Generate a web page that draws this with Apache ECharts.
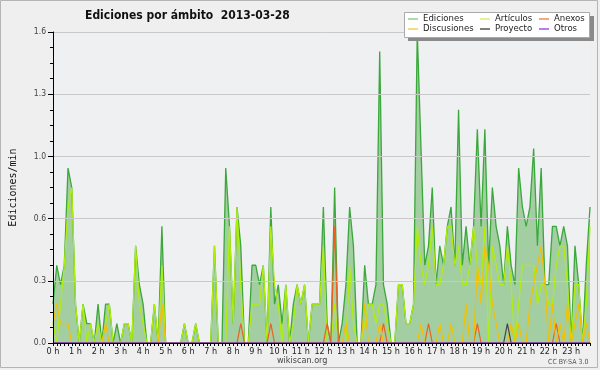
<!DOCTYPE html>
<html><head><meta charset="utf-8">
<script src="https://cdn.jsdelivr.net/npm/echarts@6/dist/echarts.min.js"></script>
<style>html,body{margin:0;padding:0;background:#ffffff;}#c{width:600px;height:370px;}</style>
</head><body><div id="c"></div>
<script>
const hourLabels = ['0 h','1 h','2 h','3 h','4 h','5 h','6 h','7 h','8 h','9 h','10 h','11 h','12 h','13 h','14 h','15 h','16 h','17 h','18 h','19 h','20 h','21 h','22 h','23 h'];
const yTicks = [0, 0.32, 0.64, 0.96, 1.28, 1.6];

const ediciones = [
0.2,0.4,0.3,0.4,0.9,0.8,0.2,0,0.2,0.1,
0.1,0,0.2,0,0.2,0.2,0,0.1,0,0.1,
0.1,0,0.5,0.3,0.2,0,0,0.2,0,0.6,
0,0,0,0,0,0.1,0,0,0.1,0,
0,0,0,0.5,0,0,0.9,0.6,0.1,0.7,
0.5,0,0,0.4,0.4,0.3,0.4,0,0.7,0.2,
0.3,0.1,0.3,0,0.2,0.3,0.2,0.3,0,0.2,
0.2,0.2,0.7,0.1,0,0.8,0,0.1,0.3,0.7,
0.5,0,0,0.4,0.2,0.2,0.3,1.5,0.3,0.2,
0,0,0.3,0.3,0.1,0.1,0.2,1.6,1.0,0.4,
0.5,0.8,0.3,0.5,0.4,0.6,0.7,0.4,1.2,0.4,
0.6,0.4,0.6,1.1,0.6,1.1,0.4,0.8,0.6,0.5,
0.3,0.6,0.4,0.3,0.9,0.7,0.6,0.7,1.0,0.5,
0.9,0.3,0.3,0.6,0.6,0.5,0.6,0.5,0,0.5,
0.3,0,0.4,0.7];

const articulos = [
0.1,0,0.2,0.4,0.7,0.8,0.2,0,0.2,0,
0.1,0,0.1,0,0.1,0.2,0,0,0,0.1,
0.1,0,0.5,0.2,0.1,0,0,0.2,0,0.4,
0,0,0,0,0,0.1,0,0,0.1,0,
0,0,0,0.5,0,0,0,0.6,0.1,0.7,
0.3,0,0,0.2,0.2,0.2,0.4,0,0.6,0.3,
0.2,0,0.3,0,0.1,0.3,0.2,0.3,0,0.2,
0.2,0.2,0.5,0,0,0.2,0,0,0,0.4,
0.1,0,0,0.1,0.2,0.2,0.1,0.2,0.2,0.1,
0,0,0.3,0.3,0.1,0.1,0.2,0.6,0.4,0.3,
0.4,0.6,0.3,0.3,0.4,0.6,0.6,0.4,0.5,0.3,
0.3,0.4,0.6,0.4,0.3,0.6,0,0.5,0.4,0.3,
0.3,0.5,0.3,0,0.2,0.4,0.4,0.4,0.4,0.2,
0.3,0.3,0.2,0.2,0.4,0.5,0.5,0.3,0,0.3,
0.3,0,0.2,0.6];

const anexos = [
0,0,0,0,0,0,0,0,0,0,
0,0,0,0,0,0,0,0,0,0,
0,0,0,0,0,0,0,0,0,0,
0,0,0,0,0,0,0,0,0,0,
0,0,0,0,0,0,0,0,0,0,
0.1,0,0,0,0,0,0,0,0.1,0,
0,0,0,0,0,0,0,0,0,0,
0,0,0,0.1,0,0.6,0,0,0,0,
0,0,0,0,0,0,0,0,0.1,0,
0,0,0,0,0,0,0,0,0,0,
0.1,0,0,0,0,0,0,0,0,0,
0,0,0,0.1,0,0,0,0,0,0,
0,0,0,0,0,0,0,0,0,0,
0,0,0,0,0.1,0,0,0,0,0,
0,0,0,0];

const discusiones = [
0.1,0.2,0.1,0.1,0.1,0,0,0,0,0,
0,0,0,0,0.1,0,0,0,0,0,
0,0,0,0,0,0,0,0,0,0.2,
0,0,0,0,0,0,0,0,0,0,
0,0,0,0,0,0,0,0,0,0,
0,0,0,0,0,0,0,0,0,0,
0,0,0,0,0,0,0,0,0,0,
0,0,0,0,0,0,0,0,0.1,0,
0,0,0,0.2,0,0,0,0.1,0,0,
0,0,0,0,0,0,0,0,0.1,0,
0,0,0,0.1,0,0,0.1,0,0,0,
0.2,0,0,0.4,0.2,0.5,0.4,0.2,0.1,0,
0,0,0.1,0,0.1,0,0,0.2,0.3,0.4,
0.5,0.3,0,0.2,0,0.1,0,0.2,0,0.1,
0.2,0,0.1,0];

const proyecto = [
0,0,0,0,0,0,0,0,0,0,
0,0,0,0,0,0,0,0,0,0,
0,0,0,0,0,0,0,0,0,0,
0,0,0,0,0,0,0,0,0,0,
0,0,0,0,0,0,0,0,0,0,
0,0,0,0,0,0,0,0,0,0,
0,0,0,0,0,0,0,0,0,0,
0,0,0,0,0,0,0,0,0,0,
0,0,0,0,0,0,0,0,0,0,
0,0,0,0,0,0,0,0,0,0,
0,0,0,0,0,0,0,0,0,0,
0,0,0,0,0,0,0,0,0,0,
0,0.1,0,0,0,0,0,0,0,0,
0,0,0,0,0,0,0,0,0,0,
0,0,0,0];

const otros = [
0,0,0,0,0,0,0,0,0,0,
0,0,0,0,0,0,0,0,0,0,
0,0,0,0,0,0,0,0,0,0,
0,0,0,0,0,0,0,0,0,0,
0,0,0,0,0,0,0,0,0,0,
0,0,0,0,0,0,0,0,0,0,
0,0,0,0,0,0,0,0,0,0,
0,0,0,0,0,0,0,0,0,0,
0,0,0,0,0,0,0,0,0,0,
0,0,0,0,0,0,0,0,0,0,
0,0,0,0,0,0,0,0,0,0,
0,0,0,0,0,0,0,0,0,0,
0,0,0,0,0,0,0,0,0,0,
0,0,0,0,0,0,0,0,0,0,
0,0,0,0];

// 10-minute slots (category keys)
const slots = [];
for (let i = 0; i < ediciones.length; i++) slots.push(String(i));

const FONT = "'DejaVu Sans Condensed','DejaVu Sans',sans-serif";

function lineSeries(name, data, legendColor, lineColor, extra) {
  return Object.assign({
    name: name, type: 'line', data: data, showSymbol: false, symbol: 'none',
    color: legendColor,
    lineStyle: { color: lineColor, width: 1.2 },
    emphasis: { disabled: true }, animation: false
  }, extra || {});
}

const chart = echarts.init(document.getElementById('c'), null, { renderer: 'canvas' });
chart.setOption({
  animation: false,
  backgroundColor: '#efefef',
  title: {
    text: 'Ediciones por ámbito  2013-03-28',
    left: 80, top: 5,
    textStyle: { fontFamily: FONT, fontSize: 12, fontWeight: 'bold', color: '#111' }
  },
  grid: { left: 46, right: 10, top: 32, bottom: 27, show: true, backgroundColor: '#eef0f2', borderWidth: 0 },
  xAxis: {
    type: 'category', data: slots, boundaryGap: false, z: 5,
    axisLine: { show: true, lineStyle: { color: '#000', width: 1 } },
    axisTick: { show: true, interval: 0, length: 3, lineStyle: { color: '#000' } },
    axisLabel: {
      interval: 0, margin: 4, fontFamily: FONT, fontSize: 9, color: '#222',
      formatter: (v, idx) => (idx % 6 === 0 ? hourLabels[idx / 6] : '')
    },
    splitLine: { show: false }
  },
  yAxis: {
    type: 'value', min: 0, max: 1.6, interval: 0.32, z: 5,
    name: 'Ediciones/min', nameLocation: 'middle', nameGap: 35,
    nameTextStyle: { fontFamily: 'DejaVu Sans Mono', fontSize: 10, color: '#111' },
    axisLine: { show: true, lineStyle: { color: '#000', width: 1 } },
    axisTick: { show: true, length: 5, lineStyle: { color: '#000' } },
    minorTick: { show: true, splitNumber: 4, length: 3, lineStyle: { color: '#000' } },
    axisLabel: { margin: 7, fontFamily: FONT, fontSize: 8.5, color: '#444',
      formatter: v => { const t = yTicks.find(x => Math.abs(x - v) < 1e-6); return (t === undefined ? v : t).toFixed(1); } },
    splitLine: { show: true, lineStyle: { color: '#c9c9c9', width: 1 } }
  },
  legend: [
    { orient: 'vertical', left: 408, top: 14, padding: 0, itemGap: 0, itemWidth: 10, itemHeight: 1.5, icon: 'rect', selectedMode: false, z: 20,
      textStyle: { fontFamily: FONT, fontSize: 9.5, color: '#222', lineHeight: 10 }, data: ['Ediciones', 'Discusiones'] },
    { orient: 'vertical', left: 480, top: 14, padding: 0, itemGap: 0, itemWidth: 10, itemHeight: 1.5, icon: 'rect', selectedMode: false, z: 20,
      textStyle: { fontFamily: FONT, fontSize: 9.5, color: '#222', lineHeight: 10 }, data: ['Artículos', 'Proyecto'] },
    { orient: 'vertical', left: 539, top: 14, padding: 0, itemGap: 0, itemWidth: 10, itemHeight: 1.5, icon: 'rect', selectedMode: false, z: 20,
      textStyle: { fontFamily: FONT, fontSize: 9.5, color: '#222', lineHeight: 10 }, data: ['Anexos', 'Otros'] }
  ],
  graphic: [
    { type: 'rect', z: 10, silent: true, shape: { x: 0.5, y: 0.5, width: 597, height: 367 }, style: { fill: 'none', stroke: '#b4b4b4', lineWidth: 1 } },
    { type: 'rect', z: 10, silent: true, shape: { x: 408, y: 16, width: 186, height: 25 }, style: { fill: '#8a8a8a' } },
    { type: 'rect', z: 11, silent: true, shape: { x: 404.5, y: 12.5, width: 185, height: 25 }, style: { fill: '#ffffff', stroke: '#aaaaaa', lineWidth: 1 } },
    { type: 'text', z: 10, silent: true, left: 277, top: 356, style: { text: 'wikiscan.org', font: "9px 'DejaVu Sans Condensed','DejaVu Sans',sans-serif", fill: '#444' } },
    { type: 'text', z: 10, silent: true, left: 548, top: 359, style: { text: 'CC BY-SA 3.0', font: "7px 'DejaVu Sans Condensed','DejaVu Sans',sans-serif", fill: '#555' } }
  ],
  series: [
    lineSeries('Ediciones', ediciones, '#8fd08f', '#3aa83a', { areaStyle: { color: '#a2cea2', opacity: 1 }, lineStyle: { color: '#3aa83a', width: 1.3 } }),
    lineSeries('Artículos', articulos, '#d6f27a', '#b2ee0a'),
    lineSeries('Anexos', anexos, '#f08a5a', '#ee6020'),
    lineSeries('Discusiones', discusiones, '#f7cf55', '#f5c000'),
    lineSeries('Proyecto', proyecto, '#555555', '#444444'),
    lineSeries('Otros', otros, '#9955ee', '#8833ee')
  ]
});
</script></body></html>
